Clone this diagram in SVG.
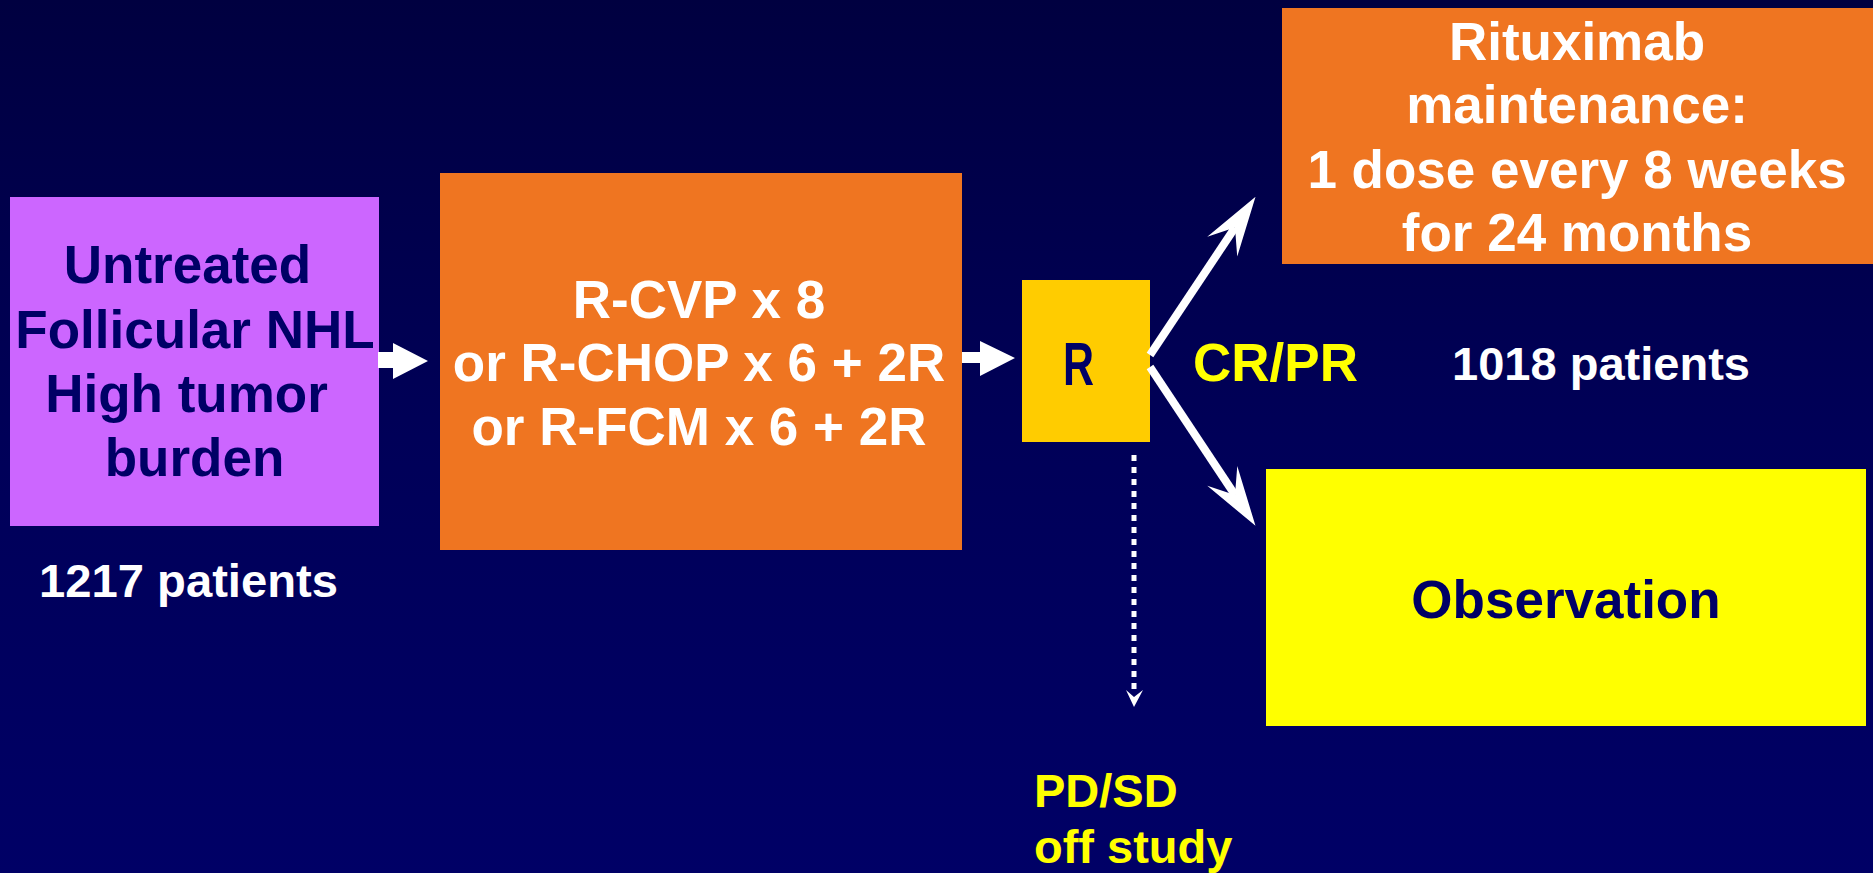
<svg xmlns="http://www.w3.org/2000/svg" width="1873" height="873" viewBox="0 0 1873 873">
  <defs>
    <linearGradient id="bg" x1="0" y1="0" x2="0" y2="1">
      <stop offset="0" stop-color="#000040"/>
      <stop offset="0.5" stop-color="#000058"/>
      <stop offset="1" stop-color="#000066"/>
    </linearGradient>
    <marker id="stealth" markerUnits="userSpaceOnUse" markerWidth="80" markerHeight="60" viewBox="-30 -30 80 60" refX="0" refY="0" orient="auto" overflow="visible">
      <path d="M37,0 L-23,-18 L0,0 L-23,18 Z" fill="#FFFFFF"/>
    </marker>
    <style>
      .t { font-family: "Liberation Sans", Arial, sans-serif; font-weight: bold; }
      .big { font-size: 53px; }
      .mid { font-size: 47px; }
      .navy { fill: #000066; }
      .white { fill: #FFFFFF; }
      .yellow { fill: #FFFF00; }
      .orange { fill: #EF7521; }
      .conn { stroke: #FFFFFF; fill: none; }
    </style>
  </defs>

  <rect x="0" y="0" width="1873" height="873" fill="url(#bg)"/>

  <g id="node-untreated">
    <rect x="10" y="197" width="369" height="329" fill="#CC66FF"/>
    <text class="t big navy" text-anchor="middle" x="187.5" y="283">Untreated</text>
    <text class="t big navy" text-anchor="middle" x="195" y="348">Follicular NHL</text>
    <text class="t big navy" text-anchor="middle" x="186.5" y="412">High tumor</text>
    <text class="t big navy" text-anchor="middle" x="194.5" y="476">burden</text>
  </g>

  <g id="label-1217">
    <text class="t mid white" x="39" y="597" textLength="299" lengthAdjust="spacingAndGlyphs">1217 patients</text>
  </g>

  <g id="node-induction">
    <rect class="orange" x="440" y="173" width="522" height="377"/>
    <text class="t big white" text-anchor="middle" x="699" y="318">R-CVP x 8</text>
    <text class="t big white" text-anchor="middle" x="699" y="381">or R-CHOP x 6 + 2R</text>
    <text class="t big white" text-anchor="middle" x="699" y="445">or R-FCM x 6 + 2R</text>
  </g>

  <g id="node-random">
    <rect x="1022" y="280" width="128" height="162" fill="#FFCC00"/>
    <text class="t navy" font-size="62" x="1063" y="385" textLength="31" lengthAdjust="spacingAndGlyphs">R</text>
  </g>

  <g id="node-maintenance">
    <rect class="orange" x="1282" y="8" width="591" height="256"/>
    <text class="t big white" text-anchor="middle" x="1577" y="60">Rituximab</text>
    <text class="t big white" text-anchor="middle" x="1577" y="123">maintenance:</text>
    <text class="t big white" text-anchor="middle" x="1577" y="188">1 dose every 8 weeks</text>
    <text class="t big white" text-anchor="middle" x="1577" y="251">for 24 months</text>
  </g>

  <g id="node-observation">
    <rect x="1266" y="469" width="600" height="257" fill="#FFFF00"/>
    <text class="t big navy" text-anchor="middle" x="1566" y="618">Observation</text>
  </g>

  <g id="labels">
    <text class="t big yellow" x="1193" y="381">CR/PR</text>
    <text class="t mid white" x="1452" y="380" textLength="298" lengthAdjust="spacingAndGlyphs">1018 patients</text>
    <text class="t mid yellow" x="1034" y="807">PD/SD</text>
    <text class="t mid yellow" x="1034" y="863">off study</text>
  </g>

  <g id="connectors">
    <polygon fill="#FFFFFF" points="378,352 393,352 393,343 428,361 393,379 393,368 378,368"/>
    <polygon fill="#FFFFFF" points="962,352 980,352 980,341 1015,358 980,376 980,363 962,363"/>
    <line class="conn" stroke-width="8" x1="1150" y1="355" x2="1235" y2="227.5" marker-end="url(#stealth)"/>
    <line class="conn" stroke-width="8" x1="1150" y1="367" x2="1235" y2="495" marker-end="url(#stealth)"/>
    <line class="conn" stroke-width="5" stroke-dasharray="6 6" x1="1134" y1="455" x2="1134" y2="689"/>
    <polygon fill="#FFFFFF" points="1126,690 1134,697 1143,690 1134,707"/>
  </g>
</svg>
